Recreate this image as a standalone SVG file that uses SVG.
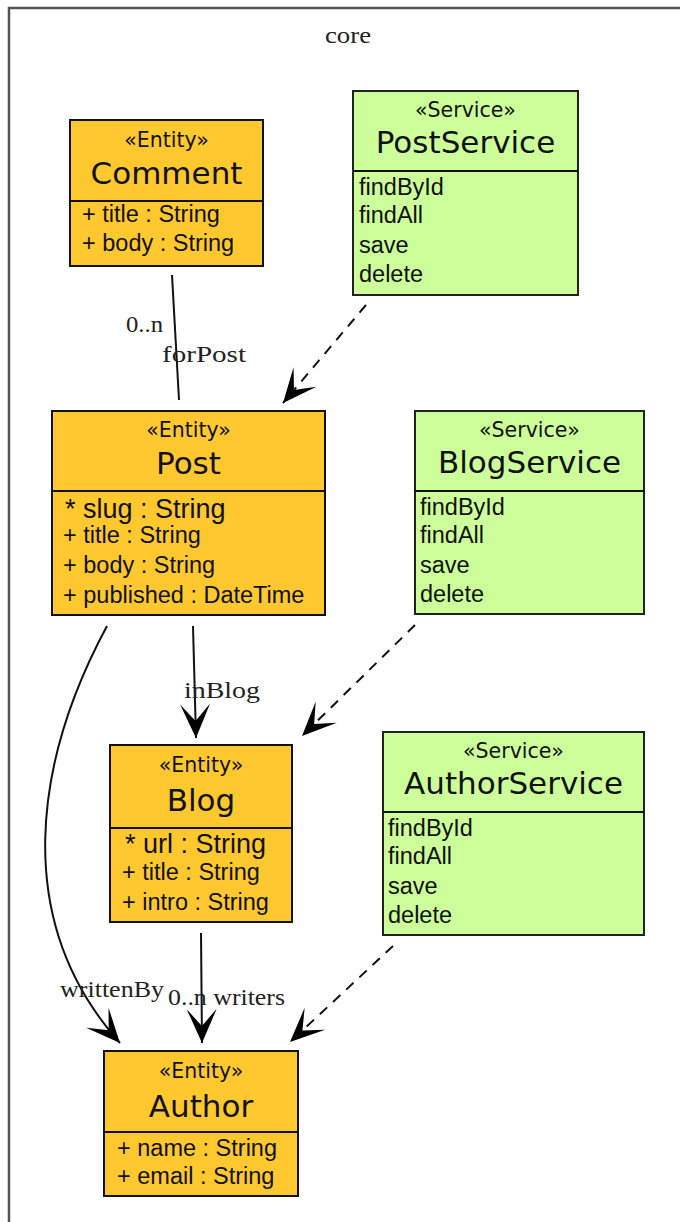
<svg xmlns="http://www.w3.org/2000/svg" width="680" height="1222" viewBox="0 0 680 1222">
<style>
.frame{fill:none;stroke:#555;stroke-width:2.5}
.ent{fill:#FFC82F;stroke:#111;stroke-width:2}
.svc{fill:#CCFF99;stroke:#222;stroke-width:2}
.div{stroke:#111;stroke-width:2}
.st{font-family:"DejaVu Sans",sans-serif;font-size:20.5px;fill:#111;text-anchor:middle}
.nm{font-family:"DejaVu Sans",sans-serif;font-size:31px;fill:#111;text-anchor:middle}
.at{font-family:"Liberation Sans",Arial,sans-serif;font-size:23.5px;fill:#111}
.key{font-family:"Liberation Sans",Arial,sans-serif;font-size:27px;fill:#111}
.lbl{font-family:"Liberation Serif","Times New Roman",serif;font-size:23px;fill:#222}
.edge{fill:none;stroke:#111;stroke-width:2}
.dash{fill:none;stroke:#111;stroke-width:2;stroke-dasharray:10 8}
</style>
<defs>
<marker id="vee" markerUnits="userSpaceOnUse" viewBox="-36 -17 38 34" markerWidth="38" markerHeight="34" refX="0" refY="0" orient="auto">
<path d="M0,0 L-34,-15 L-17,0 L-34,15 Z" fill="#000"/>
</marker>
</defs>
<rect width="680" height="1222" fill="#fff"/>
<g id="frame-core">
<rect class="frame" x="9" y="8" width="720" height="1260"/>
<text class="lbl" x="325" y="43" textLength="46" lengthAdjust="spacingAndGlyphs">core</text>
</g>
<g id="edges">
<path class="edge" d="M172,275 L179,400"/>
<text class="lbl" x="126" y="332" textLength="37" lengthAdjust="spacingAndGlyphs">0..n</text>
<text class="lbl" x="162" y="362" textLength="84" lengthAdjust="spacingAndGlyphs">forPost</text>
<path class="dash" d="M366,305 L283,403" marker-end="url(#vee)"/>
<path class="edge" d="M193,626 L196,738" marker-end="url(#vee)"/>
<text class="lbl" x="184" y="698" textLength="76" lengthAdjust="spacingAndGlyphs">inBlog</text>
<path class="dash" d="M415,625 L302,736" marker-end="url(#vee)"/>
<path class="edge" d="M107,626 C35,760 10,920 120,1043" marker-end="url(#vee)"/>
<text class="lbl" x="60" y="997" textLength="104" lengthAdjust="spacingAndGlyphs">writtenBy</text>
<path class="edge" d="M201,933 L202,1043" marker-end="url(#vee)"/>
<text class="lbl" x="168" y="1005" textLength="117" lengthAdjust="spacingAndGlyphs">0..n writers</text>
<path class="dash" d="M393,946 L290,1042" marker-end="url(#vee)"/>
</g>
<g id="Comment">
<rect class="ent" x="70" y="120" width="193" height="146"/>
<line class="div" x1="70" y1="201" x2="263" y2="201"/>
<text class="st" x="166.5" y="147">«Entity»</text>
<text class="nm" x="166.5" y="184">Comment</text>
<text class="at" x="82" y="222">+ title : String</text>
<text class="at" x="82" y="251">+ body : String</text>
</g>
<g id="PostService">
<rect class="svc" x="353" y="91" width="225" height="204"/>
<line class="div" x1="353" y1="171" x2="578" y2="171"/>
<text class="st" x="465.5" y="117">«Service»</text>
<text class="nm" x="465.5" y="153">PostService</text>
<text class="at" x="359" y="195">findById</text>
<text class="at" x="359" y="223">findAll</text>
<text class="at" x="359" y="253">save</text>
<text class="at" x="359" y="282">delete</text>
</g>
<g id="Post">
<rect class="ent" x="52" y="411" width="273" height="204"/>
<line class="div" x1="52" y1="491" x2="325" y2="491"/>
<text class="st" x="188.5" y="437">«Entity»</text>
<text class="nm" x="188.5" y="474">Post</text>
<text class="key" x="65" y="518">* slug : String</text>
<text class="at" x="63" y="543">+ title : String</text>
<text class="at" x="63" y="573">+ body : String</text>
<text class="at" x="63" y="603">+ published : DateTime</text>
</g>
<g id="BlogService">
<rect class="svc" x="415" y="411" width="229" height="203"/>
<line class="div" x1="415" y1="491" x2="644" y2="491"/>
<text class="st" x="529.5" y="437">«Service»</text>
<text class="nm" x="529.5" y="473">BlogService</text>
<text class="at" x="420" y="515">findById</text>
<text class="at" x="420" y="543">findAll</text>
<text class="at" x="420" y="573">save</text>
<text class="at" x="420" y="602">delete</text>
</g>
<g id="Blog">
<rect class="ent" x="110" y="745" width="182" height="177"/>
<line class="div" x1="110" y1="828" x2="292" y2="828"/>
<text class="st" x="201" y="772">«Entity»</text>
<text class="nm" x="201" y="811">Blog</text>
<text class="key" x="125" y="853">* url : String</text>
<text class="at" x="122" y="880">+ title : String</text>
<text class="at" x="122" y="910">+ intro : String</text>
</g>
<g id="AuthorService">
<rect class="svc" x="383" y="732" width="261" height="203"/>
<line class="div" x1="383" y1="812" x2="644" y2="812"/>
<text class="st" x="513.5" y="758">«Service»</text>
<text class="nm" x="513.5" y="794">AuthorService</text>
<text class="at" x="388" y="836">findById</text>
<text class="at" x="388" y="864">findAll</text>
<text class="at" x="388" y="894">save</text>
<text class="at" x="388" y="923">delete</text>
</g>
<g id="Author">
<rect class="ent" x="104" y="1051" width="194" height="145"/>
<line class="div" x1="104" y1="1132" x2="298" y2="1132"/>
<text class="st" x="201" y="1078">«Entity»</text>
<text class="nm" x="201" y="1117">Author</text>
<text class="at" x="117" y="1156">+ name : String</text>
<text class="at" x="117" y="1184">+ email : String</text>
</g>
</svg>
